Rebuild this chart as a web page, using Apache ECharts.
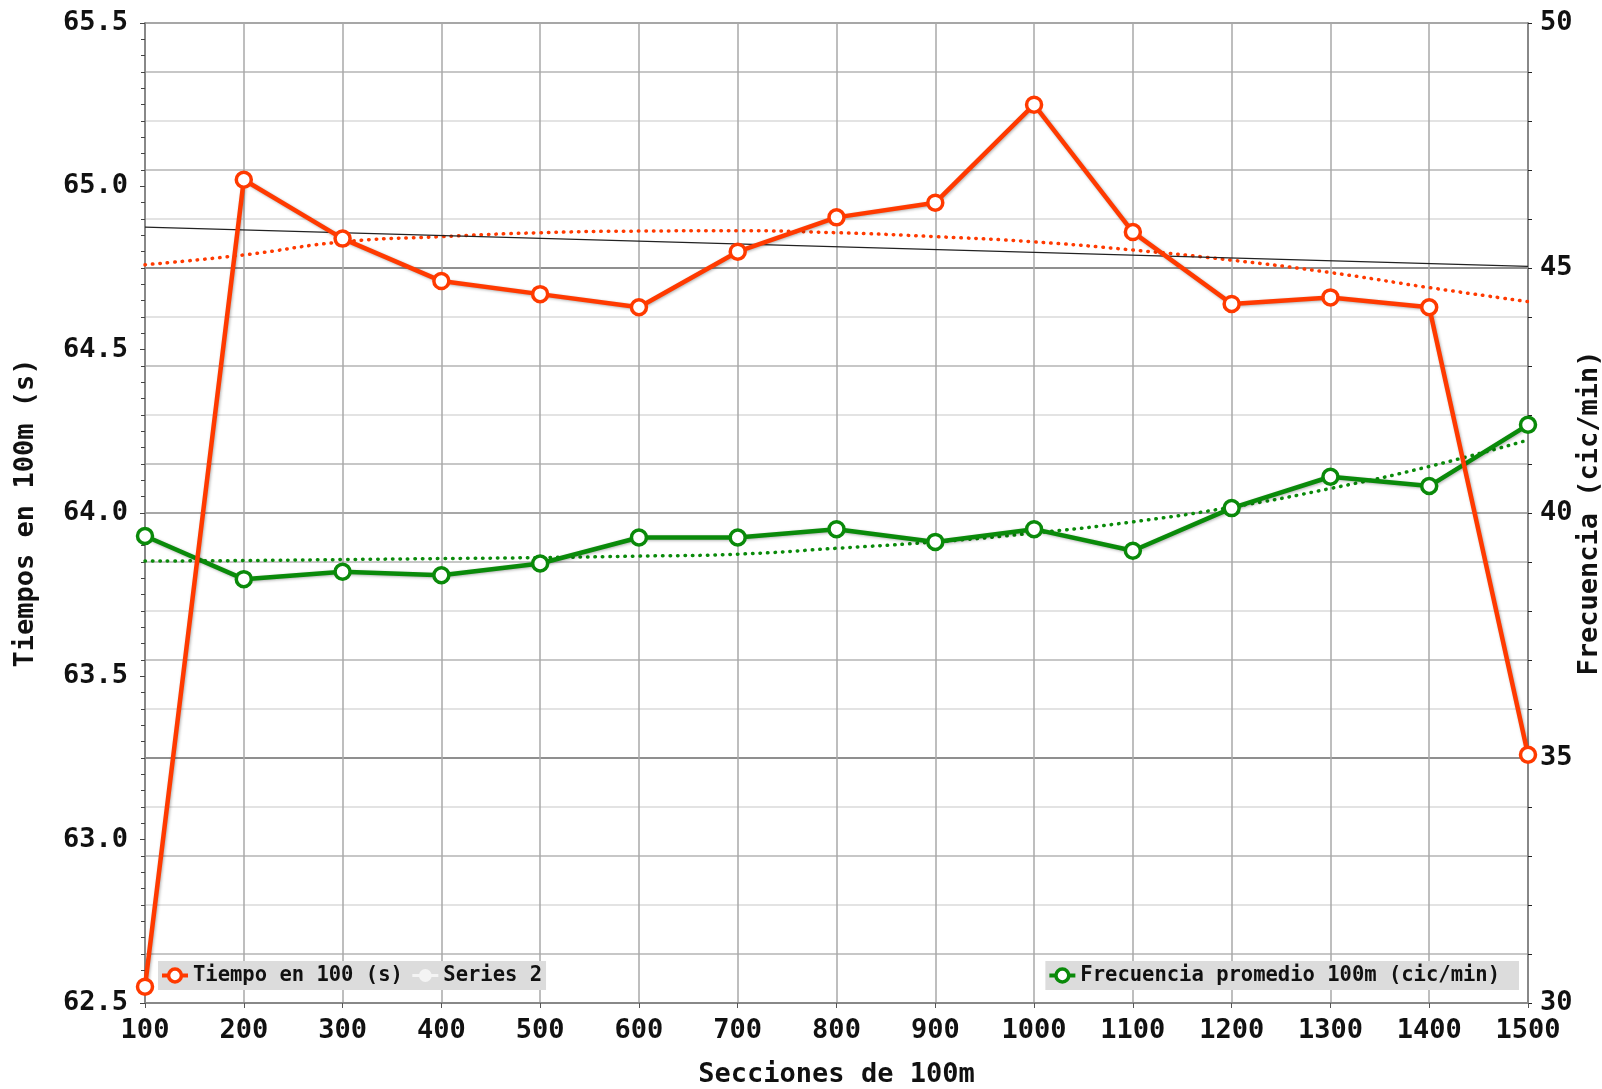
<!DOCTYPE html>
<html>
<head>
<meta charset="utf-8">
<script src="https://cdn.jsdelivr.net/npm/echarts@6/dist/echarts.min.js"></script>
<style>
html,body{margin:0;padding:0;background:#fff;}
#chart{width:1602px;height:1089px;}
</style>
</head>
<body>
<div id="chart"></div>
<script>
const secciones = [100,200,300,400,500,600,700,800,900,1000,1100,1200,1300,1400,1500];
const tiempo = [62.55,65.02,64.84,64.71,64.67,64.63,64.80,64.905,64.95,65.25,64.86,64.64,64.66,64.63,63.26];
const frecuencia = [39.53,38.65,38.80,38.73,38.97,39.50,39.50,39.67,39.41,39.67,39.23,40.10,40.74,40.55,41.80];
const tendenciaTiempo = [64.76,64.79,64.83,64.846,64.858,64.863,64.864,64.858,64.846,64.83,64.805,64.774,64.736,64.69,64.647];
const tendenciaFrecuencia = [39.02,39.03,39.05,39.07,39.09,39.12,39.16,39.28,39.41,39.59,39.82,40.12,40.50,40.95,41.49];
const serie2X = [100,1500];
const serie2 = [64.875,64.755];

const pairs = (xs, ys) => xs.map((x,i)=>[x, ys[i]]);
const RED = '#ff3a00', GREEN = '#0a8a0a';
const FONT = 'DejaVu Sans Mono';

const chart = echarts.init(document.getElementById('chart'), null, {renderer:'canvas'});
const gridColors = ['#8a8a8a','#b4b4b4','#dadada','#b4b4b4','#dadada','#6a6a6a','#dadada','#b4b4b4','#dadada','#b4b4b4'];
const legendText = {fontFamily:FONT,fontWeight:'bold',fontSize:20.5,color:'#111'};
chart.setOption({
  animation:false,
  backgroundColor:'#fff',
  grid:{left:145,right:74,top:23,bottom:86,containLabel:false,outerBoundsMode:'none'},
  legend:[{
    left:158, top:961, orient:'horizontal',
    backgroundColor:'#dcdcdc', padding:[4,4,4,2], itemGap:8, itemWidth:26, itemHeight:16,
    textStyle:legendText,
    data:[
      {name:'Tiempo en 100 (s)', lineStyle:{color:RED,width:4}, itemStyle:{color:'#fff',borderColor:RED,borderWidth:3.5}},
      {name:'Series 2', lineStyle:{color:'#f4f4f4',width:3}, itemStyle:{color:'#f4f4f4'}}
    ]
  },{
    right:83, top:961, orient:'horizontal',
    backgroundColor:'#dcdcdc', padding:[4,19,4,2], itemWidth:26, itemHeight:16,
    textStyle:legendText,
    data:[{name:'Frecuencia promedio 100m (cic/min)', lineStyle:{color:GREEN,width:4}, itemStyle:{color:'#fff',borderColor:GREEN,borderWidth:3.5}}]
  }],
  xAxis:{
    type:'value', min:100, max:1500, interval:100,
    name:'Secciones de 100m', nameLocation:'middle', nameGap:58, nameMoveOverlap:false,
    nameTextStyle:{fontFamily:FONT,fontWeight:'bold',fontSize:27,color:'#111'},
    axisLine:{lineStyle:{color:'#888',width:2}},
    axisTick:{show:true,length:5,lineStyle:{color:'#555'}},
    axisLabel:{fontFamily:FONT,fontWeight:'bold',fontSize:27,color:'#111',margin:14,formatter:v=>String(v)},
    splitLine:{show:true,lineStyle:{color:'#a8a8a8',width:1.5}}
  },
  yAxis:[{
    type:'value', min:62.5, max:65.5, interval:0.5, position:'left',
    name:'Tiempos en 100m (s)', nameLocation:'middle', nameGap:106, nameRotate:90, nameMoveOverlap:false,
    nameTextStyle:{fontFamily:FONT,fontWeight:'bold',fontSize:27,color:'#111'},
    axisLine:{show:true,lineStyle:{color:'#888',width:2}},
    axisTick:{show:true,length:5,lineStyle:{color:'#444'}},
    minorTick:{show:true,splitNumber:10,length:4,lineStyle:{color:'#444'}},
    axisLabel:{fontFamily:FONT,fontWeight:'bold',fontSize:27,color:'#111',margin:17,formatter:v=>v.toFixed(1)},
    splitLine:{show:false}
  },{
    type:'value', min:30, max:50, interval:1, position:'right',
    name:'Frecuencia (cic/min)', nameLocation:'middle', nameGap:48, nameRotate:90, nameMoveOverlap:false,
    nameTextStyle:{fontFamily:FONT,fontWeight:'bold',fontSize:27,color:'#111'},
    axisLine:{show:true,lineStyle:{color:'#888',width:2}},
    axisTick:{show:true,length:4,lineStyle:{color:'#222'}},
    axisLabel:{fontFamily:FONT,fontWeight:'bold',fontSize:27,color:'#111',margin:12,formatter:v=>(v%5===0?String(v):'')},
    splitLine:{show:true,lineStyle:{color:gridColors,width:1.5}}
  }],
  series:[
    {name:'Tendencia frecuencia', type:'line', yAxisIndex:1, data:pairs(secciones,tendenciaFrecuencia), smooth:true,
     symbol:'none', lineStyle:{color:GREEN,width:3.5,type:[0.5,7],cap:'round'}, silent:true, z:2},
    {name:'Tendencia tiempo', type:'line', yAxisIndex:0, data:pairs(secciones,tendenciaTiempo), smooth:true,
     symbol:'none', lineStyle:{color:RED,width:3.5,type:[0.5,7],cap:'round'}, silent:true, z:2},
    {name:'Series 2', type:'line', yAxisIndex:0, data:pairs(serie2X,serie2), symbol:'none',
     lineStyle:{color:'#222',width:1.2}, itemStyle:{color:'#222'}, z:3},
    {name:'Frecuencia promedio 100m (cic/min)', type:'line', yAxisIndex:1, data:pairs(secciones,frecuencia),
     symbol:'circle', symbolSize:15, clip:false,
     lineStyle:{color:GREEN,width:4.5,shadowBlur:3,shadowColor:'rgba(0,0,0,0.3)',shadowOffsetX:1,shadowOffsetY:1},
     itemStyle:{color:'#fff',borderColor:GREEN,borderWidth:3.5}, z:4},
    {name:'Tiempo en 100 (s)', type:'line', yAxisIndex:0, data:pairs(secciones,tiempo),
     symbol:'circle', symbolSize:15, clip:false,
     lineStyle:{color:RED,width:4.5,shadowBlur:3,shadowColor:'rgba(0,0,0,0.3)',shadowOffsetX:1,shadowOffsetY:1},
     itemStyle:{color:'#fff',borderColor:RED,borderWidth:3.5}, z:5}
  ]
});
</script>
</body>
</html>
